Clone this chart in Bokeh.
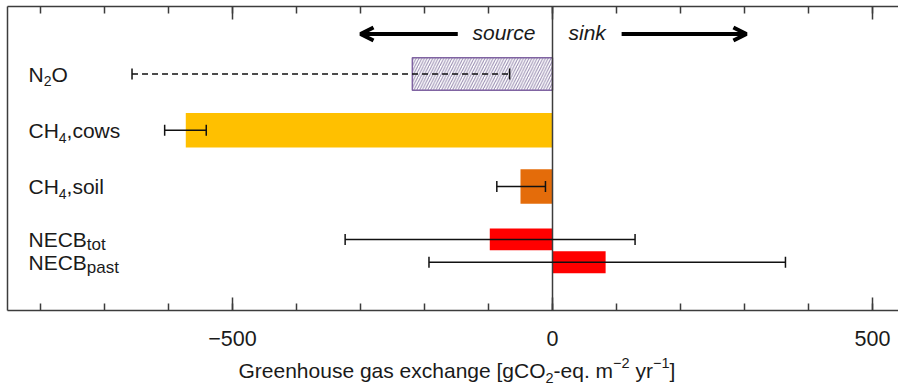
from bokeh.plotting import figure
from bokeh.layouts import column
from bokeh.models import (Range1d, FixedTicker, LinearAxis, Span, Whisker, TeeHead,
                          ColumnDataSource, Arrow, OpenHead)
from bokeh.core.properties import value
from bokeh.embed import file_html
from bokeh.resources import INLINE

# ---------------- data ----------------
categories = ["N2O", "CH4,cows", "CH4,soil", "NECB tot", "NECB past"]
label_main = ["N", "CH", "CH", "NECB", "NECB"]
label_sub = ["2", "4", "4", "tot", "past"]
label_rest = ["O", ",cows", ",soil", "", ""]
values = [-219, -573, -50, -98, 83]
err_lower = [-657, -606, -87, -324, -193]
err_upper = [-67, -541, -11, 129, 364]
row_pos = [4.0, 3.0, 2.0, 1.06, 0.655]
major_ticks = [-500, 0, 500]
minor_ticks = [-800, -700, -600, -500, -400, -300, -200, -100, 0, 100, 200, 300, 400, 500]
tick_labels = {-500: "\u2212500", 0: "0", 500: "500"}
xlabel_parts = [("Greenhouse gas exchange [gCO", "main"), ("2", "sub"), ("-eq. m", "main"),
                ("\u22122", "sup"), (" yr", "main"), ("\u22121", "sup"), ("]", "main")]

# ---------------- layout constants ----------------
FONT = "Liberation Sans"
TXT = "#1a1a1a"
AX = "#3c3c3c"
FL, FT, FB = 7, 6, 310          # frame left / top / bottom (page px)
ZERO_PX = 552
PXX = 0.64
X0 = (FL - ZERO_PX) / PXX
X1 = (898 - ZERO_PX) / PXX
PXY = 56.25
Y1 = 4 + (73.5 - FT) / PXY
Y0 = Y1 - (FB - FT) / PXY
H1 = 352
K = 0.375                       # empirical baseline correction (fraction of font size)

W = {'N': 722, 'E': 667, 'C': 722, 'B': 667, 'H': 722, 'O': 778, ',': 278, 'c': 500, 'o': 556,
     'w': 722, 's': 500, 'i': 222, 'l': 222, 't': 278, 'p': 556, 'a': 556, 'G': 778, 'r': 333,
     'e': 556, 'n': 556, 'h': 556, 'u': 556, 'g': 556, 'x': 500, '[': 278, ']': 278, ' ': 278,
     '-': 333, '.': 278, 'm': 833, 'y': 500, '\u2212': 584, 'q': 556, 'd': 556, 'k': 500}


def tw(s, size):
    """text width in data x units"""
    return sum(W.get(ch, 556) for ch in s) * size / 1000.0 / PXX


def page_to_y(py):
    return Y1 - (py - FT) / PXY


def base_y(py, size):
    """data y for a text whose alphabetic baseline should sit at page pixel py"""
    return page_to_y(py - K * size)


xr = Range1d(X0, X1)
p = figure(width=898, height=H1, output_backend="svg", toolbar_location=None,
           x_range=xr, y_range=Range1d(Y0, Y1),
           min_border_left=FL, min_border_right=0, min_border_top=FT,
           min_border_bottom=H1 - FB)
p.outline_line_color = None
p.grid.visible = False
p.background_fill_color = "white"
p.border_fill_color = "white"

ticker = FixedTicker(ticks=major_ticks, minor_ticks=minor_ticks)

xa = p.xaxis[0]
xa.ticker = ticker
xa.major_label_overrides = tick_labels
xa.major_tick_in = 13
xa.major_tick_out = 0
xa.minor_tick_in = 7
xa.minor_tick_out = 0
xa.axis_line_color = AX
xa.axis_line_width = 1.5
xa.major_tick_line_color = AX
xa.major_tick_line_width = 1.5
xa.minor_tick_line_color = AX
xa.minor_tick_line_width = 1.5
xa.major_label_text_font = FONT
xa.major_label_text_font_size = "21.5px"
xa.major_label_text_color = TXT
xa.major_label_standoff = 20

top = LinearAxis(ticker=ticker, major_tick_in=13, major_tick_out=0, minor_tick_in=7,
                 minor_tick_out=0, axis_line_color=AX, axis_line_width=1.5,
                 major_tick_line_color=AX, major_tick_line_width=1.5,
                 minor_tick_line_color=AX, minor_tick_line_width=1.5,
                 major_label_overrides={t: "" for t in major_ticks},
                 major_label_text_font_size="1px", major_label_standoff=0)
p.add_layout(top, "above")

ya = p.yaxis[0]
ya.ticker = FixedTicker(ticks=[])
ya.major_tick_out = 0
ya.major_tick_in = 0
ya.minor_tick_out = 0
ya.minor_tick_in = 0
ya.major_label_text_font_size = "1px"
ya.major_label_standoff = 0
ya.axis_line_color = AX
ya.axis_line_width = 1.5

# ---------------- bars ----------------
p.hbar(y=row_pos[0:1], left=0, right=values[0:1], height=0.58, fill_color="white",
       line_color="#8064A2", line_width=1.5, hatch_pattern="/", hatch_color="#9487ad",
       hatch_scale=5.5, hatch_weight=1)
p.hbar(y=row_pos[1:3], left=0, right=values[1:3], height=0.61,
       fill_color=["#FFC000", "#E46C0A"], line_color=None)
p.hbar(y=row_pos[3:5], left=0, right=values[3:5], height=0.39,
       fill_color="#FF0000", line_color=None)

# zero line
p.add_layout(Span(location=0, dimension="height", line_color=AX, line_width=1.5,
                  level="overlay"))

# ---------------- error bars ----------------
src_dash = ColumnDataSource(dict(y=row_pos[0:1], lo=err_lower[0:1], hi=err_upper[0:1]))
src_solid = ColumnDataSource(dict(y=row_pos[1:], lo=err_lower[1:], hi=err_upper[1:]))
for src, dash in ((src_dash, "6 4"), (src_solid, "solid")):
    p.add_layout(Whisker(source=src, base="y", lower="lo", upper="hi", dimension="width",
                         level="overlay",
                         line_color="#111111", line_width=1.5, line_dash=dash,
                         lower_head=TeeHead(size=11, line_width=1.5, line_color="#111111"),
                         upper_head=TeeHead(size=11, line_width=1.5, line_color="#111111")))

# ---------------- category labels ----------------
LX = (28 - ZERO_PX) / PXX
MAIN, SUBD, SUBW = 21, 14, 17
mx, my, mt = [], [], []
sx, sy, sz, st = [], [], [], []
rx, ry, rt = [], [], []
for m, s, r, yp in zip(label_main, label_sub, label_rest, row_pos):
    center_px = FT + (Y1 - yp) * PXY
    base_px = center_px + 8
    ssize = SUBD if s.isdigit() else SUBW
    drop = 4.5 if s.isdigit() else 3.5
    mx.append(LX); my.append(base_y(base_px, MAIN)); mt.append(m)
    sx.append(LX + tw(m, MAIN)); sy.append(base_y(base_px + drop, ssize)); st.append(s)
    sz.append(f"{ssize}px")
    if r:
        rx.append(LX + tw(m, MAIN) + tw(s, ssize)); ry.append(base_y(base_px, MAIN))
        rt.append(r)

common = dict(text_font=value(FONT), text_baseline="alphabetic", text_align="left",
              text_color=TXT)
p.text(x=mx, y=my, text=mt, text_font_size=f"{MAIN}px", **common)
p.text(x=sx, y=sy, text=st, text_font_size=sz, **common)
p.text(x=rx, y=ry, text=rt, text_font_size=f"{MAIN}px", **common)

# ---------------- source / sink ----------------
ARROW_Y = page_to_y(33.5)
for xs, xe in ((-148, -300), (108, 303)):
    p.add_layout(Arrow(x_start=xs, y_start=ARROW_Y, x_end=xe, y_end=ARROW_Y,
                       line_width=4, line_color="black",
                       end=OpenHead(size=13, line_width=4, line_color="black")))
p.text(x=[(535 - ZERO_PX) / PXX], y=[base_y(40, 21)], text=["source"],
       text_font=value(FONT), text_font_size="21px", text_font_style="italic",
       text_align="right", text_baseline="alphabetic", text_color=TXT)
p.text(x=[(568 - ZERO_PX) / PXX], y=[base_y(40, 21)], text=["sink"],
       text_font=value(FONT), text_font_size="21px", text_font_style="italic",
       text_align="left", text_baseline="alphabetic", text_color=TXT)

# ---------------- x axis label strip (with sub/superscripts) ----------------
H2 = 389 - H1
q = figure(width=898, height=H2, output_backend="svg", toolbar_location=None,
           x_range=xr, y_range=Range1d(0, H2), x_axis_location=None, y_axis_location=None,
           min_border_left=FL, min_border_right=0, min_border_top=0, min_border_bottom=0)
q.outline_line_color = None
q.grid.visible = False
q.background_fill_color = "white"
q.border_fill_color = "white"

XL_MAIN, XL_SCRIPT = 21, 14.5
XL_BASE = 378
cx = (238 - ZERO_PX) / PXX
lx, ly, lt, ls = [], [], [], []
for txt, kind in xlabel_parts:
    if kind == "main":
        size, bpx = XL_MAIN, XL_BASE
    elif kind == "sub":
        size, bpx = XL_SCRIPT, XL_BASE + 5
    else:
        size, bpx = XL_SCRIPT, XL_BASE - 10
    lead = len(txt) - len(txt.lstrip(" "))
    lx.append(cx + tw(txt[:lead], size)); lt.append(txt.lstrip(" "))
    ly.append(H2 - (bpx - H1) + K * size); ls.append(f"{size}px")
    cx += tw(txt, size)
q.text(x=lx, y=ly, text=lt, text_font_size=ls, **common)

open("out.html", "w").write(file_html(column(p, q, spacing=0), INLINE))
